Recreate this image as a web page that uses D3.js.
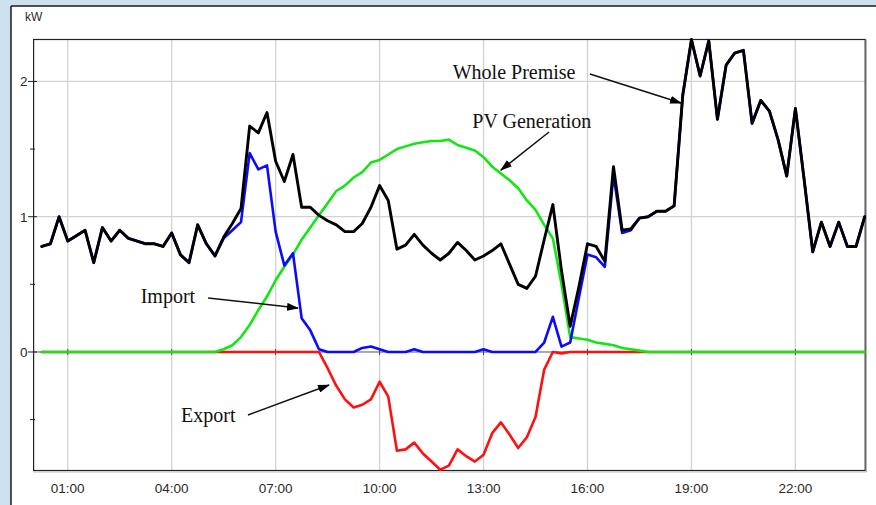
<!DOCTYPE html>
<html><head><meta charset="utf-8">
<script src="https://cdn.jsdelivr.net/npm/d3@7"></script>
<style>html,body{margin:0;padding:0;background:#cde0ee;} svg{display:block;}</style>
</head><body><svg id="c" width="876" height="505"></svg>
<script>
// ---- data (15-minute intervals, 00:15 .. 24:00) ----
const tickHours = [1, 4, 7, 10, 13, 16, 19, 22];
const tickLabels = ["01:00", "04:00", "07:00", "10:00", "13:00", "16:00", "19:00", "22:00"];
const yTickValues = [0, 1, 2];
const yMinorTicks = [-0.5, 0.5, 1.5];

const wholePremise = [
 0.78,0.80,1.00,0.82,0.86,0.90,0.66,0.92,0.82,0.90,0.84,0.82,0.80,0.80,0.78,0.88,
 0.72,0.66,0.94,0.80,0.71,0.85,0.95,1.06,1.67,1.62,1.77,1.41,1.26,1.46,1.07,1.07,
 1.01,0.97,0.94,0.89,0.89,0.95,1.07,1.23,1.12,0.76,0.79,0.87,0.79,0.73,0.68,0.73,
 0.81,0.75,0.68,0.71,0.75,0.80,0.65,0.50,0.47,0.56,0.83,1.09,0.60,0.19,0.48,0.80,
 0.78,0.67,1.37,0.90,0.91,0.99,1.00,1.04,1.04,1.08,1.90,2.31,2.04,2.30,1.72,2.12,
 2.21,2.23,1.69,1.86,1.78,1.57,1.30,1.80,1.28,0.74,0.96,0.78,0.96,0.78,0.78,1.00
];
const importKw = [
 0.78,0.80,1.00,0.82,0.86,0.90,0.66,0.92,0.82,0.90,0.84,0.82,0.80,0.80,0.78,0.88,
 0.72,0.66,0.94,0.80,0.71,0.84,0.90,0.96,1.47,1.35,1.38,0.89,0.64,0.73,0.25,0.16,
 0.02,0.00,0.00,0.00,0.00,0.03,0.04,0.02,0.00,0.00,0.00,0.02,0.00,0.00,0.00,0.00,
 0.00,0.00,0.00,0.02,0.00,0.00,0.00,0.00,0.00,0.00,0.07,0.26,0.04,0.07,0.40,0.72,
 0.70,0.63,1.31,0.88,0.90,0.99,1.00,1.04,1.04,1.08,1.90,2.31,2.04,2.30,1.72,2.12,
 2.21,2.23,1.69,1.86,1.78,1.57,1.30,1.80,1.28,0.74,0.96,0.78,0.96,0.78,0.78,1.00
];
const pvGeneration = [
 0,0,0,0,0,0,0,0,0,0,0,0,0,0,0,0,
 0,0,0,0,0,0.02,0.05,0.11,0.20,0.31,0.41,0.53,0.63,0.72,0.83,0.92,
 1.01,1.10,1.19,1.23,1.29,1.33,1.40,1.42,1.46,1.50,1.52,1.54,1.55,1.56,1.56,1.57,
 1.53,1.51,1.49,1.44,1.37,1.32,1.27,1.21,1.12,1.05,0.94,0.84,0.50,0.11,0.10,0.09,
 0.07,0.06,0.05,0.03,0.02,0.01,0,0,0,0,0,0,0,0,0,0,
 0,0,0,0,0,0,0,0,0,0,0,0,0,0,0,0
];
const exportKw = [
 0,0,0,0,0,0,0,0,0,0,0,0,0,0,0,0,
 0,0,0,0,0,0,0,0,0,0,0,0,0,0,0,0,
 0,-0.12,-0.25,-0.35,-0.41,-0.39,-0.35,-0.22,-0.33,-0.73,-0.72,-0.67,-0.75,-0.81,-0.87,-0.84,
 -0.72,-0.77,-0.81,-0.76,-0.60,-0.52,-0.61,-0.71,-0.63,-0.48,-0.13,0,-0.01,0,0,0,
 0,0,0,0,0,0,0,0,0,0,0,0,0,0,0,0,
 0,0,0,0,0,0,0,0,0,0,0,0,0,0,0,0
];

// ---- layout ----
const svg = d3.select("#c");
const L = 33.1, R = 864.7, T = 39.5, B = 470.5;
const x = d3.scaleLinear().domain([0, 24]).range([L, R]);
const y = d3.scaleLinear().domain([-0.876, 2.31]).range([B, T]);
const tOf = i => (i + 1) / 4;

// panel
svg.append("rect").attr("x", 11).attr("y", 6).attr("width", 876).attr("height", 505).attr("fill", "#fff");
svg.append("line").attr("x1", 11).attr("x2", 876).attr("y1", 6).attr("y2", 6).attr("stroke", "#1a1a1a").attr("stroke-width", 1.5);
svg.append("line").attr("x1", 11).attr("x2", 11).attr("y1", 6).attr("y2", 505).attr("stroke", "#1a1a1a").attr("stroke-width", 1.5);

// grid
const g = svg.append("g");
g.selectAll(".vg").data(tickHours).join("line")
  .attr("x1", d => x(d)).attr("x2", d => x(d)).attr("y1", T).attr("y2", B)
  .attr("stroke", "#d2d2d2").attr("stroke-width", 1.3);
g.selectAll(".hg").data([1, 2]).join("line")
  .attr("x1", L).attr("x2", R).attr("y1", d => y(d)).attr("y2", d => y(d))
  .attr("stroke", "#d2d2d2").attr("stroke-width", 1.3);
// zero line
g.append("line").attr("x1", L).attr("x2", R).attr("y1", y(0)).attr("y2", y(0)).attr("stroke", "#555").attr("stroke-width", 1);
g.selectAll(".zt").data(tickHours).join("line")
  .attr("x1", d => x(d)).attr("x2", d => x(d)).attr("y1", y(0) - 3).attr("y2", y(0) + 3)
  .attr("stroke", "#444").attr("stroke-width", 1);

// frame
svg.append("rect").attr("x", L + 0.5).attr("y", T).attr("width", R - L).attr("height", B - T)
  .attr("fill", "none").attr("stroke", "#222").attr("stroke-width", 1.2);
svg.append("line").attr("x1", R + 1.5).attr("x2", R + 1.5).attr("y1", T).attr("y2", B + 1.5).attr("stroke", "#999").attr("stroke-width", 1);
svg.append("line").attr("x1", L).attr("x2", R + 1.5).attr("y1", B + 1.5).attr("y2", B + 1.5).attr("stroke", "#bbb").attr("stroke-width", 1);

// y ticks
svg.selectAll(".ymaj").data(yTickValues).join("line")
  .attr("x1", 28).attr("x2", 37).attr("y1", d => y(d)).attr("y2", d => y(d)).attr("stroke", "#222").attr("stroke-width", 1);
svg.selectAll(".ymin").data(yMinorTicks).join("line")
  .attr("x1", 30).attr("x2", 35).attr("y1", d => y(d)).attr("y2", d => y(d)).attr("stroke", "#222").attr("stroke-width", 1);
svg.selectAll(".ylab").data(yTickValues).join("text")
  .attr("x", 27.5).attr("y", d => y(d)).attr("dy", "0.36em").attr("text-anchor", "end")
  .attr("font-family", "Liberation Sans, Arial, sans-serif").attr("font-size", 13.5).attr("fill", "#2a2a2a")
  .text(d => d);
svg.append("text").attr("x", 25).attr("y", 20.5).text("kW")
  .attr("font-family", "Liberation Sans, Arial, sans-serif").attr("font-size", 12).attr("fill", "#2a2a2a");

// x labels
svg.selectAll(".xlab").data(tickHours).join("text")
  .attr("x", d => x(d)).attr("y", 493).attr("text-anchor", "middle")
  .attr("font-family", "Liberation Sans, Arial, sans-serif").attr("font-size", 13.5).attr("fill", "#2a2a2a")
  .text((d, i) => tickLabels[i]);

// series
const line = d3.line().x((d, i) => x(tOf(i))).y(d => y(d));
const series = [
  { data: exportKw, color: "#ff1010", w: 2.6 },
  { data: pvGeneration, color: "#14e614", w: 2.6 },
  { data: importKw, color: "#0a0aff", w: 2.6 },
  { data: wholePremise, color: "#000", w: 2.9 }
];
svg.selectAll(".s").data(series).join("path")
  .attr("d", d => line(d.data)).attr("fill", "none")
  .attr("stroke", d => d.color).attr("stroke-width", d => d.w)
  .attr("stroke-linejoin", "round").attr("stroke-linecap", "round");

// annotations
svg.append("defs").append("marker").attr("id", "ah")
  .attr("markerUnits", "userSpaceOnUse").attr("markerWidth", 12).attr("markerHeight", 8)
  .attr("refX", 11).attr("refY", 4).attr("orient", "auto")
  .append("path").attr("d", "M0,0 L12,4 L0,8 Z").attr("fill", "#000");

const notes = [
  { text: "Whole Premise", tx: 12.11, ty: 2.018, x1: 16.07, y1: 2.055, x2: 18.70, y2: 1.84 },
  { text: "PV Generation", tx: 12.675, ty: 1.656, x1: 14.89, y1: 1.626, x2: 13.50, y2: 1.345 },
  { text: "Import", tx: 3.105, ty: 0.36, x1: 5.05, y1: 0.40, x2: 7.645, y2: 0.325 },
  { text: "Export", tx: 4.27, ty: -0.515, x1: 6.20, y1: -0.466, x2: 8.54, y2: -0.244 }
];
svg.selectAll(".nt").data(notes).join("text")
  .attr("x", d => x(d.tx)).attr("y", d => y(d.ty))
  .attr("font-family", "Liberation Serif, Times New Roman, serif").attr("font-size", 20).attr("fill", "#111")
  .text(d => d.text);
svg.selectAll(".na").data(notes).join("line")
  .attr("x1", d => x(d.x1)).attr("y1", d => y(d.y1)).attr("x2", d => x(d.x2)).attr("y2", d => y(d.y2))
  .attr("stroke", "#111").attr("stroke-width", 1.5).attr("marker-end", "url(#ah)");
</script></body></html>
